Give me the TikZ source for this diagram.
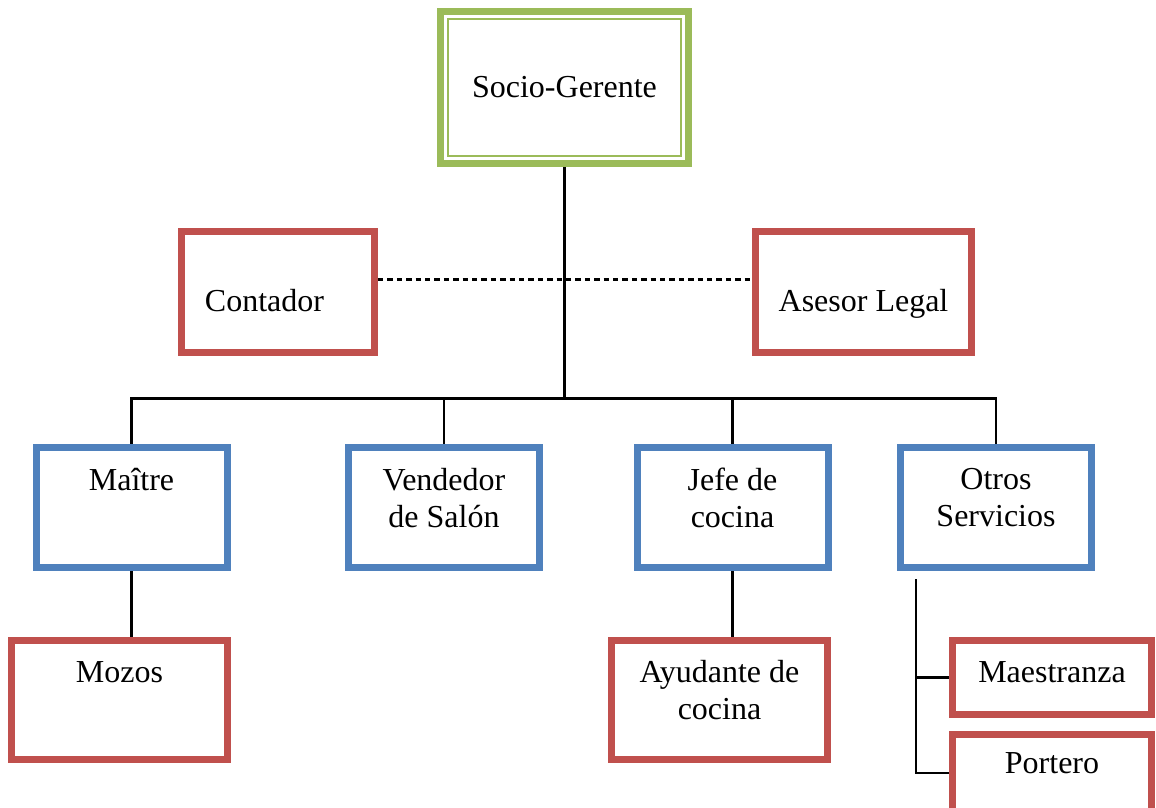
\documentclass[tikz,border=0pt]{standalone}
\usepackage{fontspec}
\setmainfont{Liberation Serif}
\usetikzlibrary{positioning}
\definecolor{verde}{HTML}{9BBB59}
\definecolor{rojo}{HTML}{C0504D}
\definecolor{azul}{HTML}{4F81BD}
\begin{document}
\begin{tikzpicture}[x=0.5pt,y=-0.5pt,line join=miter,font=\fontsize{16}{18.5}\selectfont,
	caja/.style={draw,line width=3.5pt,inner sep=0pt},
	cverde/.style={caja,draw=verde},
	croja/.style={caja,draw=rojo},
	cazul/.style={caja,draw=azul,minimum width=95.5pt,minimum height=60pt},
	texto/.style={inner sep=0pt,align=center},
	linea/.style={line width=1.1pt}]
	\def\dy{12pt} % texto arriba en la caja
	\useasboundingbox (0,0) rectangle (1156,808);
	\clip (0,0) rectangle (1156,808);
	% gerencia
	\node[cverde,minimum width=124pt,minimum height=76pt] (socio) at (564.5,87.5) {Socio-Gerente};
	\draw[verde,line width=1.3pt] ([shift={(11,11)}]socio.north west) rectangle ([shift={(-11,-11)}]socio.south east);
	% asesores
	\node[croja,minimum width=96.5pt,minimum height=60.5pt] (contador) at (278,292) {};
	\node[croja,minimum width=108pt,minimum height=60.5pt] (asesor) at (863.5,292) {};
	\node[texto,anchor=base] (contador-t) at ([xshift=-6.75pt,yshift=-9.5pt]contador.center) {Contador};
	\node[texto,anchor=base] (asesor-t) at ([yshift=-9.5pt]asesor.center) {Asesor Legal};
	% jefaturas
	\node[cazul] (maitre) at (131.5,507.5) {};
	\node[cazul] (vendedor) at (444,507.5) {};
	\node[cazul] (jefe) at (732.5,507.5) {};
	\node[cazul] (otros) at (996,507.5) {};
	\node[texto,below=\dy of maitre.north] (maitre-t) {Maître};
	\node[texto,below=\dy of vendedor.north] (vendedor-t) {Vendedor\\de Salón};
	\node[texto,below=\dy of jefe.north] (jefe-t) {Jefe de\\cocina};
	\node[texto,below=\dy of otros.north] (otros-t) {Otros\\Servicios};
	% personal
	\node[croja,minimum width=108pt,minimum height=59.5pt] (mozos) at (119.5,700) {};
	\node[croja,minimum width=108pt,minimum height=59.5pt] (ayudante) at (719.5,700) {};
	\node[croja,minimum width=99.5pt,minimum height=37pt] (maestranza) at (1052,677.5) {};
	\node[croja,minimum width=99.5pt,minimum height=38.5pt] (portero) at (1052,773) {};
	\node[texto,below=\dy of mozos.north] (mozos-t) {Mozos};
	\node[texto,below=11.5pt of ayudante.north] (ayudante-t) {Ayudante de\\cocina};
	\node[texto,below=\dy of maestranza.north] (maestranza-t) {Maestranza};
	\node[texto,below=10.5pt of portero.north] (portero-t) {Portero};
	% lineas
	\coordinate (bus) at (564,398.5);
	\coordinate (sep) at (564,279.5);
	\coordinate (otros-bajo) at (916,579);
	\draw[linea] (socio.south) -- (socio.south |- bus);
	\foreach \n in {maitre,vendedor,jefe,otros}
		\draw[linea] (socio.south |- bus) -| (\n.north);
	\draw[linea,dash pattern=on 2.7pt off 2pt] (contador.east |- sep) -- (asesor.west |- sep);
	\draw[linea] (maitre.south) -- (maitre.south |- mozos.north);
	\draw[linea] (jefe.south) -- (jefe.south |- ayudante.north);
	\foreach \n in {maestranza,portero}
		\draw[linea] (otros-bajo) |- (\n.west);
\end{tikzpicture}
\end{document}
